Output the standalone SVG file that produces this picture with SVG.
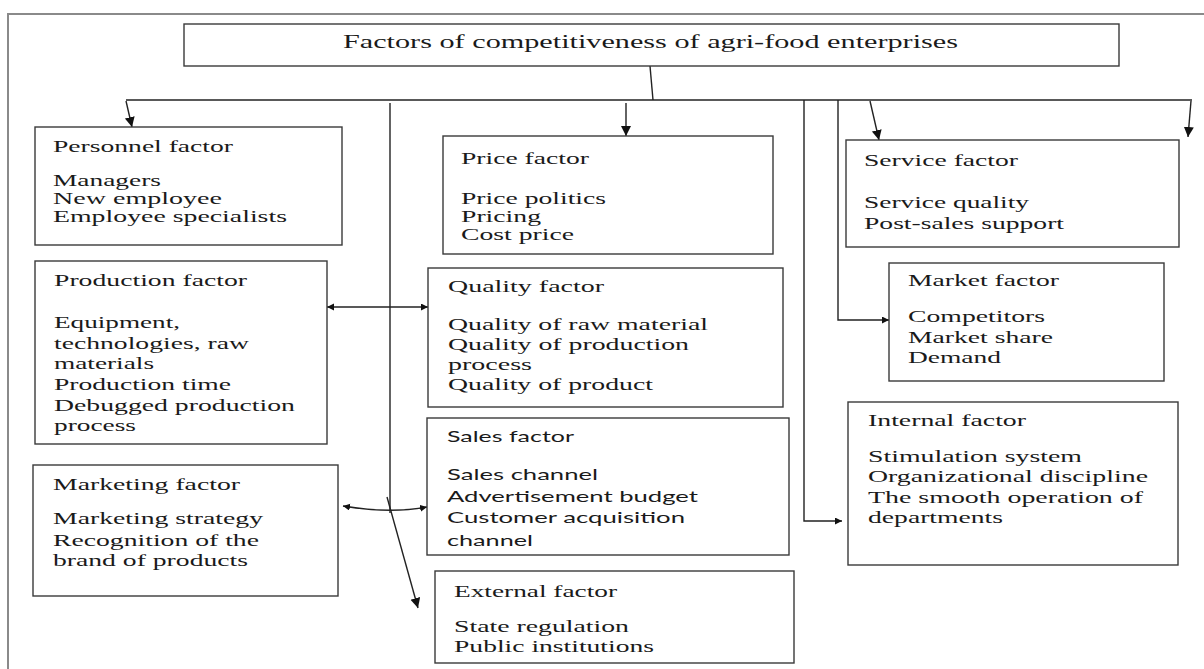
<svg xmlns="http://www.w3.org/2000/svg" width="1204" height="669" viewBox="0 0 1204 669">
<style>
.box{fill:#fff;stroke:#3a3a3a;stroke-width:1.4}
.t{font-family:"Liberation Serif","Times New Roman",serif;font-size:17.5px;fill:#1a1a1a}
.s{font-family:Lato,"Open Sans","Liberation Sans",sans-serif;font-size:16px;fill:#1a1a1a}
.ttl{font-family:"Liberation Serif","Times New Roman",serif;font-size:18.5px;fill:#1a1a1a}
.ln{fill:none;stroke:#222;stroke-width:1.4}
.frame{fill:none;stroke:#8a8a8a;stroke-width:2}
</style>
<defs>
<marker id="ah" markerUnits="userSpaceOnUse" markerWidth="11" markerHeight="11" refX="10" refY="5" orient="auto-start-reverse">
<path d="M0,0 L10,5 L0,10 z" fill="#111"/>
</marker>
<marker id="ahs" markerUnits="userSpaceOnUse" markerWidth="8" markerHeight="8" refX="7" refY="3.5" orient="auto-start-reverse">
<path d="M0,0 L7,3.5 L0,7 z" fill="#111"/>
</marker>
</defs>
<rect width="1204" height="669" fill="#fff"/>
<path class="frame" d="M8,669 L8,14 L1204,14"/>

<g id="connectors">
<line class="ln" x1="650" y1="66" x2="653" y2="100"/>
<line class="ln" x1="126" y1="100" x2="1192" y2="100" stroke="#555"/>
<line class="ln" x1="126" y1="101" x2="132" y2="127" marker-end="url(#ah)"/>
<line class="ln" x1="626" y1="103" x2="626" y2="136" marker-end="url(#ah)"/>
<line class="ln" x1="870" y1="101" x2="879" y2="140" marker-end="url(#ah)"/>
<line class="ln" x1="1191" y1="101" x2="1188" y2="137" marker-end="url(#ah)"/>
<line class="ln" x1="390" y1="103" x2="390" y2="513"/>
<line class="ln" x1="387" y1="497" x2="418" y2="608" marker-end="url(#ah)"/>
<polyline class="ln" points="838,100 838,320 889,320" marker-end="url(#ahs)"/>
<polyline class="ln" points="804,100 804,521 842,521" marker-end="url(#ahs)"/>
<line class="ln" x1="327" y1="307" x2="428" y2="307" marker-start="url(#ahs)" marker-end="url(#ahs)"/>
<path class="ln" d="M343,506 Q390,514 427,507" marker-start="url(#ahs)" marker-end="url(#ahs)"/>
</g>

<g id="title">
<rect class="box" x="184" y="24" width="935" height="42"/>
<text class="ttl" x="343" y="48" textLength="615" lengthAdjust="spacingAndGlyphs">Factors of competitiveness of agri-food enterprises</text>
</g>

<g id="personnel">
<rect class="box" x="35" y="127" width="307" height="118"/>
<text class="t" x="53" y="152" textLength="180" lengthAdjust="spacingAndGlyphs">Personnel factor</text>
<text class="t" x="53" y="186" textLength="108" lengthAdjust="spacingAndGlyphs">Managers</text>
<text class="t" x="53" y="204" textLength="169" lengthAdjust="spacingAndGlyphs">New employee</text>
<text class="t" x="53" y="222" textLength="234" lengthAdjust="spacingAndGlyphs">Employee specialists</text>
</g>

<g id="price">
<rect class="box" x="443" y="136" width="330" height="118"/>
<text class="t" x="461" y="164" textLength="128" lengthAdjust="spacingAndGlyphs">Price factor</text>
<text class="t" x="461" y="204" textLength="145" lengthAdjust="spacingAndGlyphs">Price politics</text>
<text class="t" x="461" y="222" textLength="80" lengthAdjust="spacingAndGlyphs">Pricing</text>
<text class="t" x="461" y="240" textLength="113" lengthAdjust="spacingAndGlyphs">Cost price</text>
</g>

<g id="service">
<rect class="box" x="846" y="140" width="333" height="107"/>
<text class="t" x="864" y="166" textLength="154" lengthAdjust="spacingAndGlyphs">Service factor</text>
<text class="t" x="864" y="208" textLength="165" lengthAdjust="spacingAndGlyphs">Service quality</text>
<text class="t" x="864" y="229" textLength="200" lengthAdjust="spacingAndGlyphs">Post-sales support</text>
</g>

<g id="production">
<rect class="box" x="35" y="261" width="292" height="183"/>
<text class="t" x="54" y="286" textLength="193" lengthAdjust="spacingAndGlyphs">Production factor</text>
<text class="t" x="54" y="328" textLength="126" lengthAdjust="spacingAndGlyphs">Equipment,</text>
<text class="t" x="54" y="349" textLength="195" lengthAdjust="spacingAndGlyphs">technologies, raw</text>
<text class="t" x="54" y="369" textLength="100" lengthAdjust="spacingAndGlyphs">materials</text>
<text class="t" x="54" y="390" textLength="177" lengthAdjust="spacingAndGlyphs">Production time</text>
<text class="t" x="54" y="411" textLength="241" lengthAdjust="spacingAndGlyphs">Debugged production</text>
<text class="t" x="54" y="431" textLength="82" lengthAdjust="spacingAndGlyphs">process</text>
</g>

<g id="quality">
<rect class="box" x="428" y="268" width="355" height="139"/>
<text class="t" x="448" y="292" textLength="156" lengthAdjust="spacingAndGlyphs">Quality factor</text>
<text class="t" x="448" y="330" textLength="260" lengthAdjust="spacingAndGlyphs">Quality of raw material</text>
<text class="t" x="448" y="350" textLength="241" lengthAdjust="spacingAndGlyphs">Quality of production</text>
<text class="t" x="448" y="370" textLength="84" lengthAdjust="spacingAndGlyphs">process</text>
<text class="t" x="448" y="390" textLength="205" lengthAdjust="spacingAndGlyphs">Quality of product</text>
</g>

<g id="market">
<rect class="box" x="889" y="263" width="275" height="118"/>
<text class="t" x="908" y="286" textLength="151" lengthAdjust="spacingAndGlyphs">Market factor</text>
<text class="t" x="908" y="322" textLength="137" lengthAdjust="spacingAndGlyphs">Competitors</text>
<text class="t" x="908" y="343" textLength="145" lengthAdjust="spacingAndGlyphs">Market share</text>
<text class="t" x="908" y="363" textLength="93" lengthAdjust="spacingAndGlyphs">Demand</text>
</g>

<g id="marketing">
<rect class="box" x="33" y="465" width="305" height="131"/>
<text class="t" x="53" y="490" textLength="187" lengthAdjust="spacingAndGlyphs">Marketing factor</text>
<text class="t" x="53" y="524" textLength="210" lengthAdjust="spacingAndGlyphs">Marketing strategy</text>
<text class="t" x="53" y="546" textLength="206" lengthAdjust="spacingAndGlyphs">Recognition of the</text>
<text class="t" x="53" y="566" textLength="195" lengthAdjust="spacingAndGlyphs">brand of products</text>
</g>

<g id="sales">
<rect class="box" x="427" y="418" width="362" height="137"/>
<text class="s" x="447" y="442" textLength="127" lengthAdjust="spacingAndGlyphs">Sales factor</text>
<text class="s" x="447" y="480" textLength="151" lengthAdjust="spacingAndGlyphs">Sales channel</text>
<text class="s" x="447" y="502" textLength="251" lengthAdjust="spacingAndGlyphs">Advertisement budget</text>
<text class="s" x="447" y="523" textLength="238" lengthAdjust="spacingAndGlyphs">Customer acquisition</text>
<text class="s" x="447" y="546" textLength="86" lengthAdjust="spacingAndGlyphs">channel</text>
</g>

<g id="internal">
<rect class="box" x="848" y="402" width="330" height="163"/>
<text class="t" x="868" y="426" textLength="158" lengthAdjust="spacingAndGlyphs">Internal factor</text>
<text class="t" x="868" y="462" textLength="214" lengthAdjust="spacingAndGlyphs">Stimulation system</text>
<text class="t" x="868" y="482" textLength="280" lengthAdjust="spacingAndGlyphs">Organizational discipline</text>
<text class="t" x="868" y="503" textLength="275" lengthAdjust="spacingAndGlyphs">The smooth operation of</text>
<text class="t" x="868" y="523" textLength="135" lengthAdjust="spacingAndGlyphs">departments</text>
</g>

<g id="external">
<rect class="box" x="435" y="571" width="359" height="92"/>
<text class="t" x="454" y="597" textLength="163" lengthAdjust="spacingAndGlyphs">External factor</text>
<text class="t" x="454" y="632" textLength="175" lengthAdjust="spacingAndGlyphs">State regulation</text>
<text class="t" x="454" y="652" textLength="200" lengthAdjust="spacingAndGlyphs">Public institutions</text>
</g>
</svg>
